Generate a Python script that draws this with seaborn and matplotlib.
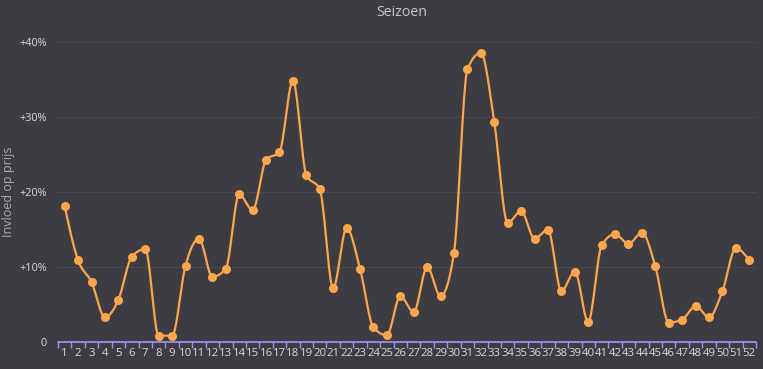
import numpy as np
import pandas as pd
import matplotlib
matplotlib.use("Agg")
import matplotlib.pyplot as plt
import seaborn as sns

weeks = list(range(1, 53))
impact = [18.1, 10.9, 8.0, 3.3, 5.65, 11.4, 12.4, 0.85, 0.85, 10.2,
          13.8, 8.7, 9.8, 19.7, 17.6, 24.3, 25.4, 34.9, 22.3, 20.4,
          7.2, 15.2, 9.8, 1.95, 0.9, 6.1, 4.0, 10.0, 6.1, 11.9,
          36.4, 38.6, 29.4, 15.9, 17.5, 13.8, 15.0, 6.8, 9.4, 2.7,
          12.9, 14.4, 13.1, 14.6, 10.1, 2.6, 3.0, 4.8, 3.3, 6.8,
          12.5, 10.9]
yticks = [0, 10, 20, 30, 40]
ytick_labels = ["0", "+10%", "+20%", "+30%", "+40%"]

BG = "#3d3c43"
GRID = "#4a4950"
LINE = "#fba64c"
AXIS = "#a08ff0"
TXT = "#d8d8dc"

sns.set_theme(style="dark")
plt.rcParams['font.family'] = ['Open Sans', 'DejaVu Sans']


def monotone(x, y, n=20):
    x = np.asarray(x, float); y = np.asarray(y, float)
    h = np.diff(x); d = np.diff(y) / h
    m = np.zeros_like(y)
    for i in range(1, len(y) - 1):
        p = (d[i - 1] * h[i] + d[i] * h[i - 1]) / (h[i - 1] + h[i])
        m[i] = (np.sign(d[i - 1]) + np.sign(d[i])) * min(abs(d[i - 1]), abs(d[i]), 0.5 * abs(p))
    m[0] = (3 * d[0] - m[1]) / 2
    m[-1] = (3 * d[-1] - m[-2]) / 2
    xs, ys = [], []
    for i in range(len(y) - 1):
        t = np.linspace(0, 1, n, endpoint=False)
        hh = h[i]
        h00 = 2 * t**3 - 3 * t**2 + 1
        h10 = t**3 - 2 * t**2 + t
        h01 = -2 * t**3 + 3 * t**2
        h11 = t**3 - t**2
        xs.append(x[i] + t * hh)
        ys.append(h00 * y[i] + h10 * hh * m[i] + h01 * y[i + 1] + h11 * hh * m[i + 1])
    xs.append([x[-1]]); ys.append([y[-1]])
    return np.concatenate(xs), np.concatenate(ys)


df = pd.DataFrame({"week": weeks, "impact": impact})
sx, sy = monotone(weeks, impact)
smooth = pd.DataFrame({"week": sx, "impact": sy})

fig = plt.figure(figsize=(7.63, 3.69), dpi=100, facecolor=BG)
ax = fig.add_axes([58 / 763, 27 / 369, 698 / 763, 312 / 369])
ax.set_facecolor(BG)

sns.lineplot(data=smooth, x="week", y="impact", ax=ax, color=LINE, linewidth=1.6,
             estimator=None, sort=False)
sns.scatterplot(data=df, x="week", y="impact", ax=ax, color=LINE, s=42,
                edgecolor=LINE, linewidth=0, zorder=5)

ax.set_xlim(0.5, 52.5)
ax.set_ylim(0, 41.66)
ax.set_yticks(yticks)
ax.set_yticklabels(ytick_labels)
ax.set_xticks(weeks)
ax.set_xticklabels([str(w) for w in weeks])
ax.set_xticks(np.arange(0.5, 53, 1), minor=True)

ax.grid(False)
for yv in yticks[1:]:
    ax.axhline(yv, color=GRID, linewidth=0.8, zorder=0)

for s in ["top", "right", "left"]:
    ax.spines[s].set_visible(False)
ax.spines["bottom"].set_color(AXIS)
ax.spines["bottom"].set_linewidth(1.3)

ax.tick_params(axis="x", which="major", bottom=True, length=0, pad=4, labelsize=8.2, labelcolor=TXT)
ax.tick_params(axis="x", which="minor", bottom=True, length=4, width=1, color=AXIS, direction="out")
ax.tick_params(axis="y", length=0, pad=8, labelsize=7.8, labelcolor=TXT)

ax.set_xlabel("")
ax.set_ylabel("Invloed op prijs", color="#a9a9ae", fontsize=9)
ax.yaxis.label.set_va("center")
ax.yaxis.set_label_coords((9 - 58) / 698, (342 - 192) / 312)
fig.text(402 / 763, 1 - 13 / 369, "Seizoen", ha="center", va="center",
         color="#c8c6d0", fontsize=10.2)

fig.savefig("out.png", dpi=100, facecolor=BG)
